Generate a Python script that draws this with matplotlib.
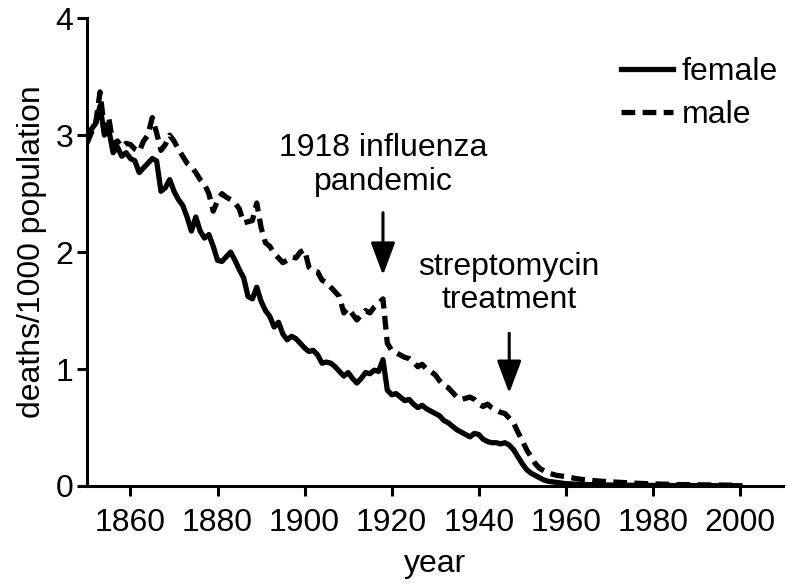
import matplotlib
matplotlib.use("Agg")
from matplotlib import pyplot as plt

plt.rcParams['font.family'] = ['Liberation Sans', 'DejaVu Sans']

years = list(range(1850, 2001))

female = [
    2.95, 3.05, 3.10, 3.25, 3.00, 3.05, 2.85, 2.90, 2.82, 2.85,
    2.80, 2.78, 2.68, 2.72, 2.76, 2.80, 2.78, 2.52, 2.55, 2.62,
    2.52, 2.45, 2.40, 2.30, 2.18, 2.30, 2.18, 2.12, 2.15, 2.05,
    1.93, 1.92, 1.96, 2.00, 1.93, 1.85, 1.78, 1.62, 1.60, 1.70,
    1.58, 1.50, 1.45, 1.36, 1.40, 1.30, 1.25, 1.28, 1.26, 1.22,
    1.18, 1.15, 1.16, 1.12, 1.05, 1.06, 1.05, 1.02, 0.98, 0.94,
    0.97, 0.92, 0.88, 0.92, 0.97, 0.96, 0.99, 0.98, 1.08, 0.82,
    0.78, 0.79, 0.76, 0.73, 0.74, 0.70, 0.67, 0.69, 0.66, 0.64,
    0.62, 0.60, 0.56, 0.54, 0.51, 0.48, 0.46, 0.44, 0.42, 0.45,
    0.44, 0.40, 0.38, 0.37, 0.37, 0.36, 0.37, 0.35, 0.31, 0.25,
    0.19, 0.14, 0.11, 0.09, 0.07, 0.05, 0.04, 0.035, 0.03, 0.025,
    0.02, 0.018, 0.016, 0.015, 0.013, 0.012, 0.011, 0.010, 0.009, 0.009,
    0.008, 0.008, 0.007, 0.007, 0.006, 0.006, 0.006, 0.005, 0.005, 0.005,
    0.005, 0.004, 0.004, 0.004, 0.004, 0.004, 0.003, 0.003, 0.003, 0.003,
    0.003, 0.003, 0.003, 0.003, 0.003, 0.002, 0.002, 0.002, 0.002, 0.002,
    0.002,
]

male = [
    2.93, 3.02, 3.10, 3.37, 3.05, 3.15, 2.92, 2.95, 2.90, 2.93,
    2.92, 2.88, 2.86, 2.95, 3.00, 3.15, 3.02, 2.87, 2.92, 3.00,
    2.95, 2.88, 2.82, 2.76, 2.73, 2.68, 2.62, 2.58, 2.50, 2.35,
    2.44, 2.50, 2.47, 2.45, 2.42, 2.37, 2.25, 2.26, 2.27, 2.42,
    2.21, 2.08, 2.05, 1.99, 1.95, 1.91, 1.93, 1.96, 1.95, 2.00,
    2.02, 1.87, 1.84, 1.83, 1.76, 1.74, 1.70, 1.66, 1.62, 1.48,
    1.52, 1.47, 1.42, 1.46, 1.50, 1.48, 1.53, 1.56, 1.60, 1.22,
    1.16, 1.14, 1.12, 1.10, 1.09, 1.06, 1.02, 1.04, 1.00, 0.98,
    0.95, 0.90, 0.86, 0.84, 0.80, 0.76, 0.74, 0.75, 0.76, 0.74,
    0.70, 0.68, 0.70, 0.67, 0.65, 0.63, 0.62, 0.58, 0.54, 0.46,
    0.39, 0.31, 0.25, 0.19, 0.15, 0.13, 0.11, 0.10, 0.09, 0.085,
    0.08, 0.072, 0.066, 0.060, 0.055, 0.052, 0.048, 0.044, 0.041, 0.039,
    0.036, 0.034, 0.032, 0.030, 0.028, 0.026, 0.024, 0.022, 0.021, 0.019,
    0.018, 0.017, 0.016, 0.015, 0.014, 0.013, 0.012, 0.012, 0.011, 0.011,
    0.010, 0.010, 0.009, 0.009, 0.008, 0.008, 0.008, 0.007, 0.007, 0.007,
    0.006,
]

xticks = [1860, 1880, 1900, 1920, 1940, 1960, 1980, 2000]
yticks = [0, 1, 2, 3, 4]

fs = 23

fig = plt.figure(figsize=(7.87, 5.88), dpi=100)
ax = fig.add_axes([0.1105, 0.1735, 0.885, 0.7955])

ax.plot(years, female, color="black", lw=3.8, label="female")
ax.plot(years, male, color="black", lw=3.8, linestyle=(0, (2.6, 1.4)), label="male")

ax.set_xlim(1850, 2010)
ax.set_ylim(0, 4)
ax.set_xticks(xticks)
ax.set_yticks(yticks)
for side in ["top", "right"]:
    ax.spines[side].set_visible(False)
for side in ["left", "bottom"]:
    ax.spines[side].set_linewidth(2.2)
ax.tick_params(width=2.2, length=7, labelsize=fs, pad=3)
ax.tick_params(axis="x", pad=9)
ax.set_xlabel("year", fontsize=fs, labelpad=8)
ax.set_ylabel("deaths/1000 population", fontsize=fs, labelpad=6)

arrow = dict(arrowstyle="-|>,head_length=2.0,head_width=0.75", color="black", lw=2.2)
ax.annotate("", xy=(1918, 1.78), xytext=(1918, 2.36), arrowprops=arrow)
ax.text(1918, 2.47, "1918 influenza\npandemic", ha="center", va="bottom",
        fontsize=fs, linespacing=1.2)
ax.annotate("", xy=(1947, 0.77), xytext=(1947, 1.33), arrowprops=arrow)
ax.text(1947, 1.46, "streptomycin\ntreatment", ha="center", va="bottom",
        fontsize=fs, linespacing=1.12)

ax.legend(loc="upper right", bbox_to_anchor=(1.01, 0.945), frameon=False, fontsize=fs,
          handlelength=1.65, handletextpad=0.25, labelspacing=0.42, borderaxespad=0)

fig.savefig("out.png", dpi=100)
